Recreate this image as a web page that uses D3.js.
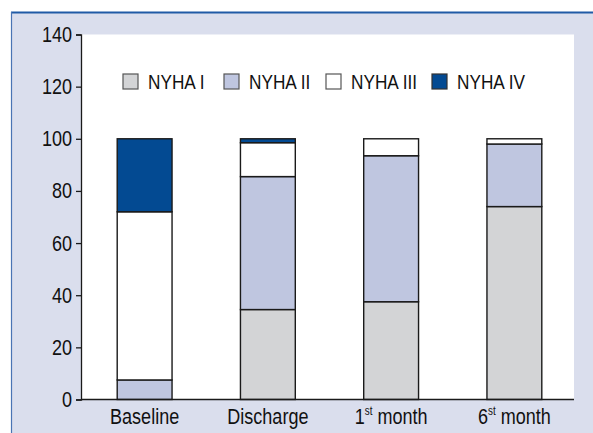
<!DOCTYPE html>
<html>
<head>
<meta charset="utf-8">
<script src="https://cdn.jsdelivr.net/npm/d3@7"></script>
<style>
  html, body { margin: 0; padding: 0; background: #fff; }
  svg { display: block; font-family: "Liberation Sans", Arial, sans-serif; }
</style>
</head>
<body>
<div id="chart"></div>
<script>
// data (percent of patients)
const categories = ["Baseline", "Discharge", "1st month", "6st month"];
const classes = ["NYHA I", "NYHA II", "NYHA III", "NYHA IV"];
const nyha1 = [0, 34.5, 37.5, 74];
const nyha2 = [7.5, 51, 56, 24];
const nyha3 = [64.5, 13, 6.5, 2];
const nyha4 = [28, 1.5, 0, 0];
const yTicks = [0, 20, 40, 60, 80, 100, 120, 140];

const colors = ["#d3d4d6", "#bfc6e0", "#ffffff", "#034a92"];

const width = 593;
const height = 433;
const narrow = 0.82; // no narrow font installed, squeeze Liberation Sans instead

const rows = categories.map((c, i) => ({
  cat: c,
  "NYHA I": nyha1[i],
  "NYHA II": nyha2[i],
  "NYHA III": nyha3[i],
  "NYHA IV": nyha4[i]
}));

const svg = d3.select("#chart").append("svg").attr("width", width).attr("height", height);

// outer panel
svg.append("rect").attr("x", 11).attr("y", 12).attr("width", width).attr("height", height)
  .attr("fill", "#dadeed");
svg.append("line").attr("x1", 11).attr("x2", width).attr("y1", 12.5).attr("y2", 12.5)
  .attr("stroke", "#1f5aa6").attr("stroke-width", 2);
svg.append("line").attr("x1", 11.5).attr("x2", 11.5).attr("y1", 12).attr("y2", height)
  .attr("stroke", "#4a74b4").attr("stroke-width", 1.2);

// plot area
const y = d3.scaleLinear().domain([0, 140]).range([399.5, 34.5]);
const x = d3.scaleBand().domain(categories).range([83, 576]).paddingInner(0.555).paddingOuter(0.2775);

svg.append("rect").attr("x", 81).attr("y", y(140)).attr("width", 574 - 81).attr("height", y(0) - y(140))
  .attr("fill", "#fff");

// stacked bars
const stack = d3.stack().keys(classes);
const series = stack(rows);

svg.append("g").selectAll("g")
  .data(series)
  .join("g")
  .attr("fill", (d, i) => colors[i])
  .selectAll("rect")
  .data(d => d.filter(p => p[1] - p[0] > 0))
  .join("rect")
  .attr("x", d => x(d.data.cat))
  .attr("y", d => y(d[1]))
  .attr("width", x.bandwidth())
  .attr("height", d => y(d[0]) - y(d[1]))
  .attr("stroke", "#1a1a1a")
  .attr("stroke-width", 1.4);

// y axis
const yAxis = svg.append("g")
  .attr("transform", "translate(81,0)")
  .call(d3.axisLeft(y).tickValues(yTicks).tickSize(5).tickPadding(4));
yAxis.select(".domain").attr("stroke", "#1a1a1a").attr("stroke-width", 1.3);
yAxis.selectAll(".tick line").attr("stroke", "#1a1a1a").attr("stroke-width", 1.3);
yAxis.selectAll(".tick text")
  .attr("font-size", 22).attr("fill", "#111")
  .attr("font-family", "Liberation Sans, Arial, sans-serif")
  .attr("x", -9 / narrow)
  .attr("transform", `scale(${narrow},1)`);

// x axis
svg.append("line").attr("x1", 81).attr("x2", 574).attr("y1", y(0)).attr("y2", y(0))
  .attr("stroke", "#1a1a1a").attr("stroke-width", 1.3);

const xLabels = svg.append("g").selectAll("text")
  .data(categories)
  .join("text")
  .attr("transform", d => `translate(${x(d) + x.bandwidth() / 2},424) scale(${narrow},1)`)
  .attr("text-anchor", "middle")
  .attr("font-size", 22)
  .attr("fill", "#111");

xLabels.each(function (d) {
  const t = d3.select(this);
  const m = d.match(/^(\d+)(st)(.*)$/);
  if (!m) { t.text(d); return; }
  t.append("tspan").text(m[1]);
  t.append("tspan").text(m[2]).attr("font-size", 12).attr("dy", -9);
  t.append("tspan").text(m[3]).attr("dy", 9);
});

// legend
const legendX = [123, 224, 326, 432];
const legend = svg.append("g").selectAll("g")
  .data(classes)
  .join("g")
  .attr("transform", (d, i) => `translate(${legendX[i]},74)`);

legend.append("rect")
  .attr("width", 15).attr("height", 15)
  .attr("fill", (d, i) => colors[i])
  .attr("stroke", (d, i) => i === 3 ? "#333" : "#555")
  .attr("stroke-width", 1.2);

legend.append("text")
  .attr("transform", `translate(25,15) scale(${narrow},1)`)
  .attr("font-size", 21)
  .attr("fill", "#111")
  .text(d => d);
</script>
</body>
</html>
